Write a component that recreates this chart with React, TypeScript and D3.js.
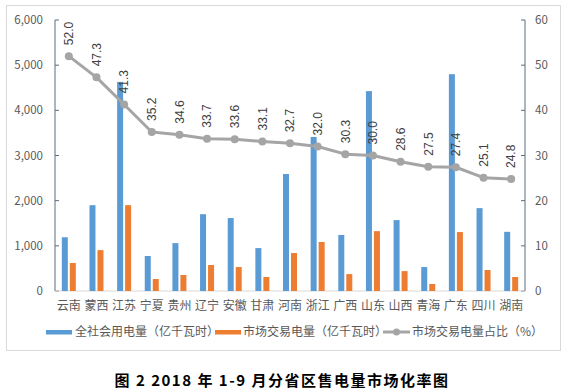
import React from "react";
import * as d3 from "d3";

const categories = ["云南","蒙西","江苏","宁夏","贵州","辽宁","安徽","甘肃","河南","浙江","广西","山东","山西","青海","广东","四川","湖南"];
const totalUsage = [1190, 1900, 4630, 775, 1060, 1700, 1615, 950, 2590, 3410, 1240, 4425, 1570, 530, 4800, 1835, 1310];
const marketTrade = [620, 905, 1900, 265, 355, 575, 530, 310, 840, 1085, 375, 1325, 440, 155, 1305, 465, 310];
const marketShare = [52.0, 47.3, 41.3, 35.2, 34.6, 33.7, 33.6, 33.1, 32.7, 32.0, 30.3, 30.0, 28.6, 27.5, 27.4, 25.1, 24.8];
const leftTicks = [0, 1000, 2000, 3000, 4000, 5000, 6000];
const rightTicks = [0, 10, 20, 30, 40, 50, 60];
const seriesNames = ["全社会用电量（亿千瓦时）", "市场交易电量（亿千瓦时）", "市场交易电量占比（%）"];
const title = "图 2 2018 年 1-9 月分省区售电量市场化率图";

const BLUE = "#5b9bd5";
const ORANGE = "#ed7d31";
const GRAY = "#a5a5a5";
const TXT = "#595959";
const AXIS = "#5a6b7d";
const FONT = "'Noto Sans CJK SC', 'Noto Sans', Arial, sans-serif";

export default function App() {
  const left = 55, right = 525, top = 20, bottom = 291;
  const x = d3.scaleBand<string>().domain(categories).range([left, right]);
  const yL = d3.scaleLinear().domain([0, 6000]).range([bottom, top]);
  const yR = d3.scaleLinear().domain([0, 60]).range([bottom, top]);
  const cx = (c: string) => (x(c) as number) + x.bandwidth() / 2;
  const fmt = d3.format(",");
  const line = d3.line<number>().x((_, i) => cx(categories[i])).y((d) => yR(d));

  return (
    <svg width={570} height={390} style={{ position: "absolute", left: 0, top: 0, background: "#fff" }} fontFamily={FONT}>
      <rect x={0} y={0} width={570} height={390} fill="#fff" />
      <rect x={6.5} y={5.5} width={554} height={345} fill="none" stroke="#d9d9d9" strokeWidth={1} />
      {/* left axis */}
      <line x1={left} x2={left} y1={top} y2={bottom} stroke={AXIS} />
      {leftTicks.map((t) => (
        <g key={"l" + t}>
          <line x1={left} x2={left + 4} y1={yL(t)} y2={yL(t)} stroke={AXIS} />
          <text x={43} y={yL(t)} dy="0.35em" textAnchor="end" fontSize={11.5} fill={TXT}>{fmt(t)}</text>
        </g>
      ))}
      {/* right axis */}
      <line x1={right} x2={right} y1={top} y2={bottom} stroke={AXIS} />
      {rightTicks.map((t) => (
        <g key={"r" + t}>
          <line x1={right - 4} x2={right} y1={yR(t)} y2={yR(t)} stroke={AXIS} />
          <text x={535} y={yR(t)} dy="0.35em" textAnchor="start" fontSize={11.5} fill={TXT}>{t}</text>
        </g>
      ))}
      {/* baseline */}
      <line x1={left} x2={right} y1={bottom} y2={bottom} stroke="#d9d9d9" />
      {/* bars */}
      {categories.map((c, i) => (
        <g key={"b" + c}>
          <rect x={cx(c) - 7} y={yL(totalUsage[i])} width={6} height={bottom - yL(totalUsage[i])} fill={BLUE} />
          <rect x={cx(c) + 1} y={yL(marketTrade[i])} width={6} height={bottom - yL(marketTrade[i])} fill={ORANGE} />
        </g>
      ))}
      {/* category labels */}
      {categories.map((c) => (
        <text key={"c" + c} x={cx(c)} y={306} dy="0.35em" textAnchor="middle" fontSize={12} fill={TXT}>{c}</text>
      ))}
      {/* line */}
      <path d={line(marketShare) || ""} fill="none" stroke={GRAY} strokeWidth={3} strokeLinejoin="round" />
      {marketShare.map((v, i) => (
        <circle key={"p" + i} cx={cx(categories[i])} cy={yR(v)} r={4} fill={GRAY} />
      ))}
      {marketShare.map((v, i) => {
        const px = cx(categories[i]) + 4.3;
        const py = yR(v) - 11;
        return (
          <text key={"v" + i} transform={`translate(${px},${py}) rotate(-90)`} textAnchor="start" fontSize={12} fill="#404040" fontFamily="Arial, 'Liberation Sans', sans-serif">
            {v.toFixed(1)}
          </text>
        );
      })}
      {/* legend */}
      <rect x={46} y={330} width={26} height={4.5} fill={BLUE} />
      <text x={75} y={332} dy="0.35em" fontSize={12} fill={TXT}>{seriesNames[0]}</text>
      <rect x={215} y={330} width={26} height={4.5} fill={ORANGE} />
      <text x={243} y={332} dy="0.35em" fontSize={12} fill={TXT}>{seriesNames[1]}</text>
      <line x1={383} x2={410} y1={332} y2={332} stroke={GRAY} strokeWidth={3} />
      <circle cx={396.5} cy={332} r={3.5} fill={GRAY} />
      <text x={412} y={332} dy="0.35em" fontSize={12} fill={TXT}>{seriesNames[2]}</text>
      {/* title */}
      <text x={282} y={381} dy="0.35em" textAnchor="middle" fontSize={15} fontWeight="bold" fill="#000" letterSpacing={1.5}>{title}</text>
    </svg>
  );
}
